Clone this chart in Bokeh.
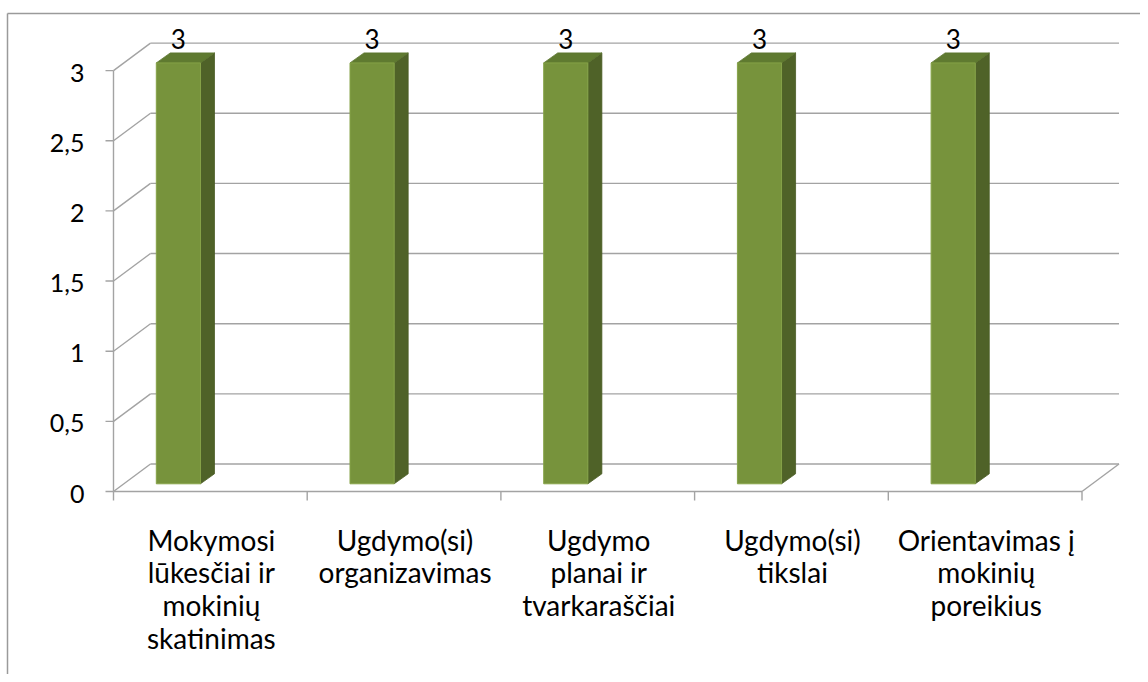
from bokeh.plotting import figure
from bokeh.models import Range1d
from bokeh.core.properties import value
from bokeh.embed import file_html
from bokeh.resources import INLINE

# ---------------- data ----------------
categories = [
    "Mokymosi\nlūkesčiai ir\nmokinių\nskatinimas",
    "Ugdymo(si)\norganizavimas",
    "Ugdymo\nplanai ir\ntvarkaraščiai",
    "Ugdymo(si)\ntikslai",
    "Orientavimas į\nmokinių\nporeikius",
]
values = [3, 3, 3, 3, 3]
data_labels = ["3", "3", "3", "3", "3"]
y_ticks = [0, 0.5, 1, 1.5, 2, 2.5, 3]
y_tick_labels = ["0", "0,5", "1", "1,5", "2", "2,5", "3"]

# ---------------- layout (pixels of the picture) ----------------
W, H = 1140, 674
OFF = 0                 # picture origin = canvas origin
AX_X = 113              # x of the value axis
AX_Y = 491              # y of value 0
CAT_PX = 193.7          # px per category
VAL_PX = 140.3          # px per value unit

def dx(px):
    return px / CAT_PX

def dy(px):
    return px / VAL_PX

x0 = (OFF - AX_X) / CAT_PX
x1 = (OFF + W - AX_X) / CAT_PX
y0 = (AX_Y - (OFF + H)) / VAL_PX
y1 = (AX_Y - OFF) / VAL_PX

p = figure(width=W, height=H, x_range=Range1d(x0, x1), y_range=Range1d(y0, y1),
           x_axis_type=None, y_axis_type=None, toolbar_location=None,
           output_backend="svg", min_border=0, outline_line_color=None,
           background_fill_color="white", border_fill_color="white")
p.grid.visible = False

n = len(categories)
ymax = y_ticks[-1]
GRID = "#a3a3a3"
GW = 1.4
WDX, WDY = dx(37), dy(27.5)      # wall depth
BDX, BDY = dx(14), dy(10)        # bar depth
BAR_L, BAR_R = 0.221, 0.449      # bar front face within category
BAR_B = dy(7.7)                  # bar base raised by depth
FONT = value("Lato")

# outer border (left and top)
left_b = -dx(AX_X - 7)
top_b = (AX_Y - 13) / VAL_PX
p.segment(x0=[left_b, left_b], y0=[y0, top_b], x1=[left_b, x1], y1=[top_b, top_b],
          line_color="#9a9a9a", line_width=1.5)

# back wall gridlines
p.segment(x0=[WDX] * len(y_ticks), y0=[t + WDY for t in y_ticks],
          x1=[n + WDX] * len(y_ticks), y1=[t + WDY for t in y_ticks],
          line_color=GRID, line_width=GW)
# side wall diagonals
p.segment(x0=[0] * len(y_ticks), y0=y_ticks,
          x1=[WDX] * len(y_ticks), y1=[t + WDY for t in y_ticks],
          line_color=GRID, line_width=GW)
# floor right diagonal
p.segment(x0=[n], y0=[0], x1=[n + WDX], y1=[WDY], line_color=GRID, line_width=GW)
# front axes
p.segment(x0=[0, 0], y0=[0, 0], x1=[0, n], y1=[ymax, 0], line_color=GRID, line_width=GW)
# y ticks
p.segment(x0=[0] * len(y_ticks), y0=y_ticks, x1=[-dx(8)] * len(y_ticks), y1=y_ticks,
          line_color=GRID, line_width=GW)
# x ticks
p.segment(x0=list(range(n + 1)), y0=[0] * (n + 1), x1=list(range(n + 1)),
          y1=[-dy(9)] * (n + 1), line_color=GRID, line_width=GW)

# bars
lefts = [i + BAR_L for i in range(n)]
rights = [i + BAR_R for i in range(n)]
bottoms = [BAR_B] * n
tops = [BAR_B + v for v in values]

side_xs = [[r, r + BDX, r + BDX, r] for r in rights]
side_ys = [[b, b + BDY, t + BDY, t] for b, t in zip(bottoms, tops)]
p.patches(side_xs, side_ys, fill_color="#4f6228", line_color="#4a5c25", line_width=0.8)
top_xs = [[l, l + BDX, r + BDX, r] for l, r in zip(lefts, rights)]
top_ys = [[t, t + BDY, t + BDY, t] for t in tops]
p.patches(top_xs, top_ys, fill_color="#5f7a30", line_color="#5a732d", line_width=0.8)
p.quad(left=lefts, right=rights, bottom=bottoms, top=tops,
       fill_color="#77933c", line_color="#86a348", line_width=1)

# data labels
p.text(x=[(l + r) / 2 for l, r in zip(lefts, rights)], y=[t + BDY + dy(14) for t in tops],
       text=data_labels, text_align="center", text_baseline="alphabetic",
       text_font=FONT, text_font_size="26px", text_color="#000000")

# y tick labels
p.text(x=[-dx(29)] * len(y_ticks), y=[t - dy(2) for t in y_ticks], text=y_tick_labels,
       text_align="right", text_baseline="middle",
       text_font=FONT, text_font_size="25px", text_color="#000000")

# category labels
p.text(x=[i + 0.5 + dx(1) for i in range(n)], y=[-dy(522 - AX_Y)] * n, text=categories,
       text_align="center", text_baseline="top", text_line_height=0.97,
       text_font=FONT, text_font_size="28px", text_color="#000000")

open("out.html", "w").write(file_html(p, INLINE))
